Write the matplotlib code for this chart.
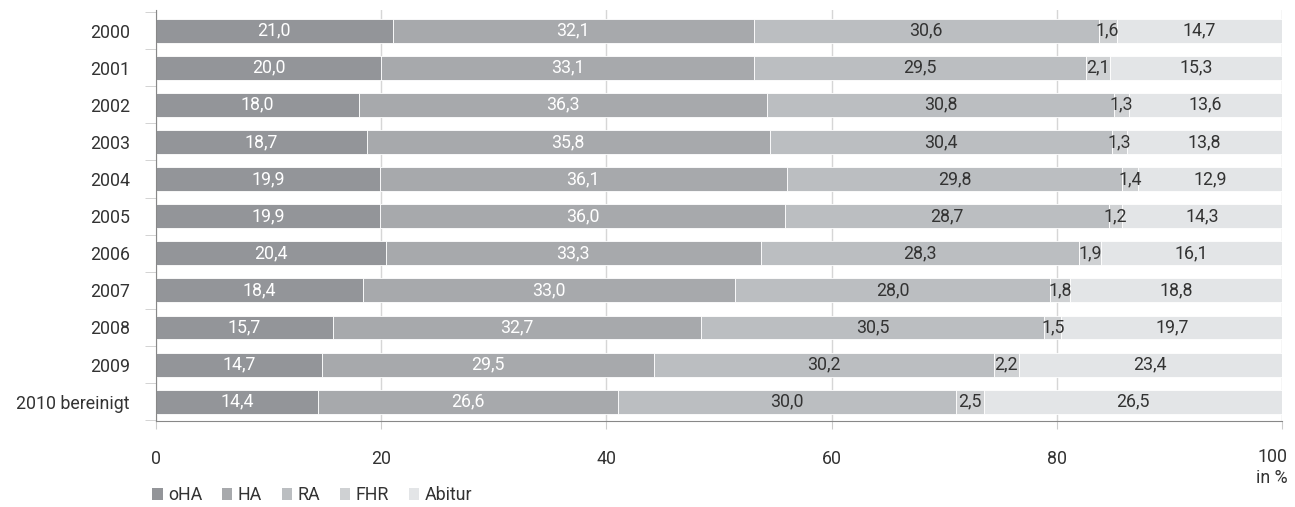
import matplotlib
matplotlib.use("Agg")
from matplotlib import pyplot as plt
from matplotlib.patches import Patch
import numpy as np

years = ["2000", "2001", "2002", "2003", "2004", "2005", "2006", "2007", "2008", "2009", "2010 bereinigt"]
series = ["oHA", "HA", "RA", "FHR", "Abitur"]
oha = [21.0, 20.0, 18.0, 18.7, 19.9, 19.9, 20.4, 18.4, 15.7, 14.7, 14.4]
ha = [32.1, 33.1, 36.3, 35.8, 36.1, 36.0, 33.3, 33.0, 32.7, 29.5, 26.6]
ra = [30.6, 29.5, 30.8, 30.4, 29.8, 28.7, 28.3, 28.0, 30.5, 30.2, 30.0]
fhr = [1.6, 2.1, 1.3, 1.3, 1.4, 1.2, 1.9, 1.8, 1.5, 2.2, 2.5]
abitur = [14.7, 15.3, 13.6, 13.8, 12.9, 14.3, 16.1, 18.8, 19.7, 23.4, 26.5]

colors = ["#939599", "#a7a9ac", "#bbbec1", "#cfd1d3", "#e3e5e7"]
TC = "#333333"
text_colors = ["white", "white", TC, TC, TC]

plt.rcParams['font.family'] = ['Roboto', 'DejaVu Sans']
FS = 12.8

fig = plt.figure(figsize=(12.95, 5.07), dpi=100)
ax = fig.add_axes([0.1205, 0.1696, 0.8695, 0.8104])

y = np.arange(len(years))
left = np.zeros(len(years))
for vals, col, tcol in zip([oha, ha, ra, fhr, abitur], colors, text_colors):
    vals = np.array(vals)
    ax.barh(y, vals, left=left, height=0.645, color=col, edgecolor="white", linewidth=0.6, zorder=2)
    for yi, (l, v) in enumerate(zip(left, vals)):
        ax.text(l + v / 2, yi, f"{v:.1f}".replace(".", ","), ha="center", va="center",
                color=tcol, fontsize=FS, zorder=3)
    left += vals

ax.set_xlim(0, 100)
ax.set_ylim(10.52, -0.55)
ax.set_xticks([0, 20, 40, 60, 80, 100])
ax.set_xticklabels(["0", "20", "40", "60", "80", ""], fontsize=FS, color=TC)
ax.tick_params(axis="x", length=6, color="#cccccc", pad=15)
ax.set_yticks(y)
ax.set_yticklabels(years, fontsize=FS, color=TC)
ax.tick_params(axis="y", which="major", length=0, pad=19)
ax.set_yticks(np.arange(-0.5, len(years), 1.0), minor=True)
ax.tick_params(axis="y", which="minor", length=8, color="#cccccc")
ax.grid(axis="x", color="#d6d6d6", linewidth=1, zorder=0)
ax.set_axisbelow(True)

for s in ["top", "right"]:
    ax.spines[s].set_visible(False)
ax.spines["left"].set_color("#888888")
ax.spines["bottom"].set_color("#888888")

# "100" with the unit below, right-aligned
ax.annotate("100\nin %", xy=(100, 0), xycoords=("data", "axes fraction"), xytext=(4, -19.5),
            textcoords="offset points", ha="right", va="top", fontsize=FS, color=TC,
            linespacing=1.2, multialignment="right")

handles = [Patch(facecolor=c, edgecolor="none") for c in colors]
fig.legend(handles, series, loc="lower left", bbox_to_anchor=(0.105, -0.026), ncol=5, frameon=False,
           fontsize=FS, handlelength=0.6, handleheight=0.6, handletextpad=0.3, columnspacing=1.1,
           labelcolor=TC)

fig.savefig("out.png", dpi=100)
